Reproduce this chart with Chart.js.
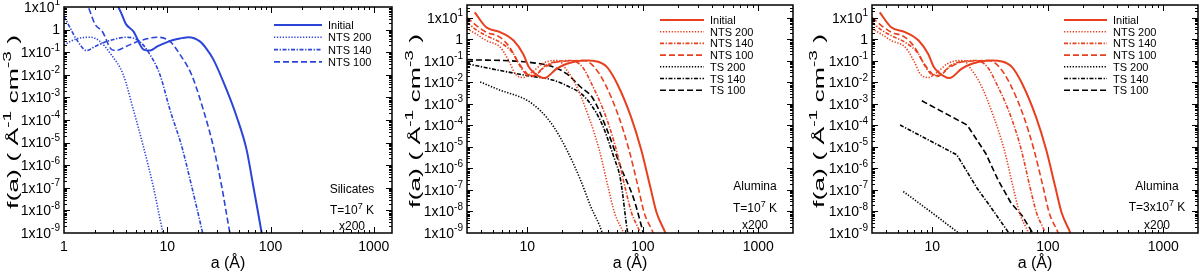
<!DOCTYPE html>
<html>
<head>
<meta charset="utf-8">
<script src="https://cdn.jsdelivr.net/npm/chart.js@4.4.1/dist/chart.umd.min.js"></script>
<style>
  body { margin: 0; background: #fff; width: 1200px; height: 278px; position: relative; overflow: hidden; }
  canvas { position: absolute; top: 0; }
</style>
</head>
<body>
<canvas id="sil" width="400" height="278" style="left:0"></canvas>
<canvas id="alu1" width="400" height="278" style="left:400px"></canvas>
<canvas id="alu3" width="400" height="278" style="left:800px"></canvas>
<script>
// grain radius a (Angstrom) and size distribution f(a)

// --- Silicates, T = 1e7 K
const silInitA = [3.2, 3.6, 4.0, 4.7, 5.9, 6.8, 8.0, 10, 12.5, 16, 20.7, 24, 28, 37.5, 47, 58.6, 68, 82, 86];
const silInitF = [16, 5.1, 1.7, 0.84, 0.13, 0.118, 0.18, 0.28, 0.38, 0.46, 0.30, 0.14, 0.047, 2.2e-3, 1.4e-4, 4.9e-6, 1.2e-7, 1e-9, 2.5e-10];
const silNts200A = [1.0, 1.3, 1.78, 2.23, 2.79, 3.75, 4.69, 5.86, 7.3, 9.1, 9.6];
const silNts200F = [0.21, 0.38, 0.46, 0.30, 0.091, 1e-2, 2.9e-4, 6.9e-6, 1.2e-7, 1e-9, 4e-10];
const silNts140A = [1.0, 1.15, 1.33, 1.66, 2.0, 2.5, 3.1, 4.04, 5.4, 6.8, 8.5, 10.6, 13.8, 17.2, 22, 23];
const silNts140F = [3.9, 1.17, 0.35, 0.118, 0.18, 0.28, 0.38, 0.46, 0.30, 0.078, 1e-2, 2.9e-4, 6.9e-6, 1.2e-7, 1e-9, 4e-10];
const silNts100A = [1.6, 1.72, 2.0, 2.35, 2.9, 3.2, 4.0, 5.0, 6.2, 7.9, 10.6, 13.3, 17.2, 22.3, 27.9, 33.6, 40.4, 43];
const silNts100F = [20, 10, 1.7, 0.83, 0.13, 0.12, 0.18, 0.28, 0.38, 0.46, 0.30, 0.078, 1e-2, 2.9e-4, 6.9e-6, 1.2e-7, 1e-9, 2.5e-10];

// --- Alumina, non-thermal sputtering (same in both alumina panels)
const aluInitA = [3.5, 4.4, 5.8, 7.6, 9.2, 10.3, 12.9, 14, 18, 22, 29, 33, 40, 49, 60, 79, 97, 116, 132, 157, 170];
const aluInitF = [18, 3.7, 2.2, 0.89, 0.21, 5.2e-2, 1.8e-2, 1.6e-2, 4.4e-2, 7.4e-2, 0.102, 0.105, 0.095, 5.2e-2, 8.7e-3, 2.5e-4, 7.2e-6, 1.4e-7, 8.5e-9, 1e-9, 3e-10];
const aluNts200A = [3.0, 3.6, 4.4, 5.8, 7.0, 7.8, 9.2, 11, 13.5, 17, 19, 21, 26, 34, 42, 50, 57, 68, 72];
const aluNts200F = [3.1, 1.8, 0.89, 0.44, 8.9e-2, 2.6e-2, 1.7e-2, 3.0e-2, 7.4e-2, 0.105, 0.10, 5.2e-2, 8.7e-3, 2.5e-4, 7.2e-6, 1.4e-7, 8.5e-9, 1e-9, 4e-10];
const aluNts140A = [3.0, 3.6, 4.4, 5.8, 7.6, 8.9, 10.3, 12, 14.5, 19.5, 24, 30, 36, 48, 59, 70, 80, 95, 100];
const aluNts140F = [6.3, 2.8, 1.5, 0.74, 0.21, 4.4e-2, 2.1e-2, 2.4e-2, 6.3e-2, 0.10, 0.105, 5.2e-2, 8.7e-3, 2.5e-4, 7.2e-6, 1.4e-7, 8.5e-9, 1e-9, 4e-10];
const aluNts100A = [3.0, 3.6, 4.4, 5.8, 7.0, 8.3, 9.9, 11, 13.5, 18, 24, 31, 38, 47, 62, 76, 91, 103, 123, 130];
const aluNts100F = [10.7, 4.5, 2.2, 1.26, 0.44, 8.9e-2, 2.6e-2, 1.9e-2, 4.4e-2, 8.9e-2, 0.10, 0.105, 5.2e-2, 8.7e-3, 2.5e-4, 7.2e-6, 1.4e-7, 8.5e-9, 1e-9, 4e-10];

// --- Alumina, thermal sputtering, T = 1e7 K
const t1Ts200A = [3.9, 5.8, 9.9, 12.9, 16.9, 22, 28.8, 35.4, 44.5, 47];
const t1Ts200F = [1.05e-2, 4.4e-3, 1.5e-3, 5e-4, 8.7e-5, 7.2e-6, 3e-7, 1.7e-8, 1e-9, 3e-10];
const t1Ts140A = [3, 5.8, 9.9, 16.9, 23, 28.8, 35, 44, 56, 64, 74, 78];
const t1Ts140F = [7.4e-2, 3.6e-2, 2.1e-2, 1.26e-2, 6.3e-3, 3.2e-3, 1.05e-3, 1.26e-4, 3.5e-6, 3.2e-7, 1e-9, 3e-10];
const t1Ts100A = [3, 9.9, 16.9, 22, 28.8, 37, 49, 64, 84, 101, 106];
const t1Ts100F = [0.115, 8.9e-2, 5.2e-2, 2.5e-2, 6.3e-3, 1.8e-3, 6.3e-5, 1.26e-6, 3.5e-8, 1e-9, 4e-10];

// --- Alumina, thermal sputtering, T = 3e7 K
const t3Ts200A = [5.6, 9.6, 16.9, 18];
const t3Ts200F = [8.5e-8, 1e-8, 1e-9, 7e-10];
const t3Ts140A = [5.25, 16.3, 24.4, 31.8, 46, 48];
const t3Ts140F = [1.05e-4, 4.3e-6, 1.2e-7, 1.7e-8, 1e-9, 7e-10];
const t3Ts100A = [8.1, 20, 29, 37, 48, 60, 74, 78];
const t3Ts100F = [1.4e-3, 1.05e-4, 5e-6, 3e-7, 2.5e-8, 6.3e-9, 1e-9, 5e-10];

const yExps = [1, 0, -1, -2, -3, -4, -5, -6, -7, -8, -9];
const silXTicks = [1, 10, 100, 1000];
const aluXTicks = [10, 100, 1000];

const FONT = '"Liberation Sans", Arial, Helvetica, sans-serif';
const BLUE = '#2b45d8';
const RED = '#e8401f';
const BLACK = '#000';
const dashes = { solid: [], dot: [1.3, 1.6], dashdot: [4, 1.6, 1.3, 1.6], dash: [6, 3] };

function series(label, a, f, color, style, smooth = true) {
  return {
    label,
    data: a.map((x, i) => ({ x, y: f[i] })),
    borderColor: color,
    borderWidth: style === 'solid' ? 2 : 1.6,
    borderDash: dashes[style],
    pointRadius: 0,
    fill: false,
    cubicInterpolationMode: smooth ? 'monotone' : 'default',
    tension: 0
  };
}

// text with superscript parts: [[text, isSup], ...]
function rich(ctx, parts, x, y, align, size) {
  const sup = Math.round(size * 0.72);
  let w = 0;
  parts.forEach(([t, s]) => { ctx.font = (s ? sup : size) + 'px ' + FONT; w += ctx.measureText(t).width; });
  let cx = align === 'right' ? x - w : align === 'center' ? x - w / 2 : x;
  ctx.textAlign = 'left';
  ctx.textBaseline = 'middle';
  parts.forEach(([t, s]) => {
    ctx.font = (s ? sup : size) + 'px ' + FONT;
    ctx.fillText(t, cx, s ? y - size * 0.38 : y);
    cx += ctx.measureText(t).width;
  });
  return w;
}

const framePlugin = {
  id: 'frame',
  afterDraw(chart, args, o) {
    const { ctx, chartArea: { left, right, top, bottom }, scales: { x, y } } = chart;
    ctx.save();
    ctx.strokeStyle = '#000';
    ctx.fillStyle = '#000';
    ctx.lineWidth = 1;
    ctx.beginPath();
    // x ticks (inside, top and bottom)
    for (let d = -1; d <= 4; d++) {
      for (let m = 1; m <= 9; m++) {
        const v = m * Math.pow(10, d);
        if (v <= x.min || v >= x.max) continue;
        const px = Math.round(x.getPixelForValue(v)) + 0.5;
        const len = m === 1 ? 6 : 3;
        ctx.moveTo(px, bottom); ctx.lineTo(px, bottom - len);
        ctx.moveTo(px, top); ctx.lineTo(px, top + len);
      }
    }
    // y ticks (inside, left and right)
    for (let d = -10; d <= 2; d++) {
      for (let m = 1; m <= 9; m++) {
        const v = m * Math.pow(10, d);
        if (v <= y.min || v >= y.max) continue;
        const py = Math.round(y.getPixelForValue(v)) + 0.5;
        const len = m === 1 ? 6 : 3;
        ctx.moveTo(left, py); ctx.lineTo(left + len, py);
        ctx.moveTo(right, py); ctx.lineTo(right - len, py);
      }
    }
    ctx.stroke();
    ctx.lineWidth = 1.5;
    ctx.strokeRect(left, top, right - left, bottom - top);

    // tick labels
    o.xTicks.forEach(v => {
      ctx.font = '14px ' + FONT;
      ctx.textAlign = 'center';
      ctx.textBaseline = 'middle';
      ctx.fillText(String(v), x.getPixelForValue(v), bottom + 14);
    });
    yExps.forEach(e => {
      const py = y.getPixelForValue(Math.pow(10, e));
      const parts = e === 0 ? [['1', false]] : [['1x10', false], [String(e), true]];
      rich(ctx, parts, left - 4, py + 1, 'right', 14);
    });

    // axis titles
    ctx.font = '16px ' + FONT;
    ctx.textAlign = 'center';
    ctx.textBaseline = 'middle';
    ctx.fillText('a (Å)', (left + right) / 2, bottom + 31);

    ctx.save();
    ctx.translate(o.yTitleX, (top + bottom) / 2 + 2);
    ctx.rotate(-Math.PI / 2);
    const titleParts = [['f(a) ( Å', false], ['-1', true], [' cm', false], ['-3', true], [' )', false]];
    ctx.globalAlpha = 0;
    const tw = rich(ctx, titleParts, 0, 0, 'center', 14);
    ctx.globalAlpha = 1;
    ctx.scale(o.yTitleLen / tw, 1);
    rich(ctx, titleParts, 0, 0, 'center', 14);
    ctx.restore();

    // annotation
    o.notes.forEach((n, i) => rich(ctx, n, o.noteX, o.noteY[i], 'center', 12));

    // legend
    const L = o.legend;
    chart.data.datasets.forEach((ds, i) => {
      const ly = L.y0 + i * L.dy;
      ctx.beginPath();
      ctx.strokeStyle = ds.borderColor;
      ctx.lineWidth = ds.borderWidth;
      ctx.setLineDash(ds.borderDash);
      ctx.moveTo(L.x0, ly); ctx.lineTo(L.x1, ly);
      ctx.stroke();
      ctx.setLineDash([]);
      ctx.fillStyle = '#000';
      ctx.font = '11px ' + FONT;
      ctx.textAlign = 'left';
      ctx.textBaseline = 'middle';
      ctx.fillText(ds.label, L.x1 + 6, ly + 1);
    });
    ctx.restore();
  }
};

function makeChart(id, datasets, xMin, xMax, yMax, pad, frameOpts) {
  return new Chart(document.getElementById(id), {
    type: 'line',
    data: { datasets },
    options: {
      responsive: false,
      devicePixelRatio: 1,
      animation: false,
      layout: { padding: pad },
      plugins: { legend: { display: false }, tooltip: { enabled: false }, frame: frameOpts },
      scales: {
        x: { type: 'logarithmic', min: xMin, max: xMax, display: false },
        y: { type: 'logarithmic', min: 1e-9, max: yMax, display: false }
      }
    },
    plugins: [framePlugin]
  });
}

function aluNts() {
  return [
    series('Initial', aluInitA, aluInitF, RED, 'solid'),
    series('NTS 200', aluNts200A, aluNts200F, RED, 'dot'),
    series('NTS 140', aluNts140A, aluNts140F, RED, 'dashdot'),
    series('NTS 100', aluNts100A, aluNts100F, RED, 'dash')
  ];
}

makeChart('sil', [
  series('Initial', silInitA, silInitF, BLUE, 'solid'),
  series('NTS 200', silNts200A, silNts200F, BLUE, 'dot'),
  series('NTS 140', silNts140A, silNts140F, BLUE, 'dashdot'),
  series('NTS 100', silNts100A, silNts100F, BLUE, 'dash')
], 1, 1500, 10, { left: 64, right: 8, top: 7, bottom: 45 }, {
  xTicks: silXTicks, yTitleX: 14, yTitleLen: 174,
  notes: [[['Silicates', false]], [['T=10', false], ['7', true], [' K', false]], [['x200', false]]],
  noteX: 352, noteY: [190, 211, 227],
  legend: { x0: 274, x1: 322, y0: 25, dy: 12.3 }
});

makeChart('alu1', aluNts().concat([
  series('TS 200', t1Ts200A, t1Ts200F, BLACK, 'dot'),
  series('TS 140', t1Ts140A, t1Ts140F, BLACK, 'dashdot'),
  series('TS 100', t1Ts100A, t1Ts100F, BLACK, 'dash')
]), 3, 2000, 40, { left: 67, right: 7, top: 5, bottom: 45 }, {
  xTicks: aluXTicks, yTitleX: 16, yTitleLen: 174,
  notes: [[['Alumina', false]], [['T=10', false], ['7', true], [' K', false]], [['x200', false]]],
  noteX: 355, noteY: [187, 209, 226],
  legend: { x0: 260, x1: 304, y0: 20, dy: 11.7 }
});

makeChart('alu3', aluNts().concat([
  series('TS 200', t3Ts200A, t3Ts200F, BLACK, 'dot', false),
  series('TS 140', t3Ts140A, t3Ts140F, BLACK, 'dashdot', false),
  series('TS 100', t3Ts100A, t3Ts100F, BLACK, 'dash', false)
]), 3, 2000, 40, { left: 72, right: 2, top: 5, bottom: 45 }, {
  xTicks: aluXTicks, yTitleX: 20, yTitleLen: 174,
  notes: [[['Alumina', false]], [['T=3x10', false], ['7', true], [' K', false]], [['x200', false]]],
  noteX: 357, noteY: [187, 208, 226],
  legend: { x0: 264, x1: 307, y0: 20, dy: 11.7 }
});
</script>
</body>
</html>
